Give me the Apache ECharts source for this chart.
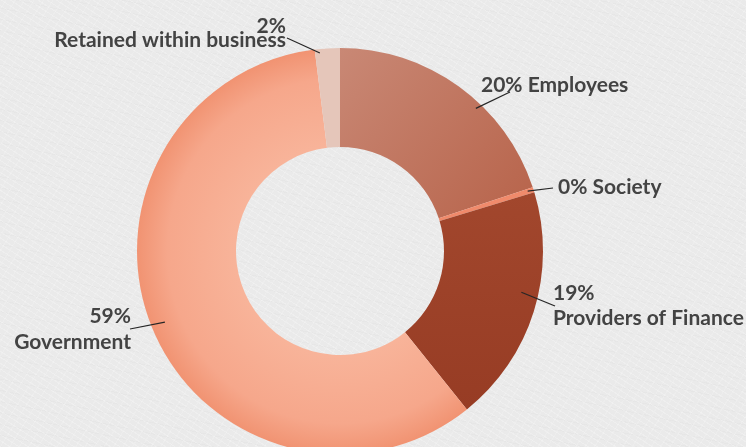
<!DOCTYPE html>
<html>
<head>
<meta charset="utf-8">
<script src="https://cdn.jsdelivr.net/npm/echarts@6/dist/echarts.min.js"></script>
<style>
  html, body { margin: 0; padding: 0; }
  body {
    width: 746px; height: 447px; overflow: hidden;
    background-color: #eaeaea;
    background-image:
      repeating-linear-gradient(33deg, rgba(255,255,255,0.22) 0 1px, rgba(255,255,255,0) 1px 5px),
      repeating-linear-gradient(-58deg, rgba(255,255,255,0.16) 0 1px, rgba(255,255,255,0) 1px 8px),
      repeating-linear-gradient(12deg, rgba(205,205,205,0.12) 0 1px, rgba(205,205,205,0) 1px 11px);
  }
  #chart { width: 746px; height: 447px; }
</style>
</head>
<body>
<div id="chart"></div>
<script>
// Share of value distributed, in percent, clockwise from twelve o'clock
const categories = ['Employees', 'Society', 'Providers of Finance', 'Government', 'Retained within business'];
const shares = [20, 0, 19, 59, 2];

const CX = 340, CY = 251, R_IN = 104, R_OUT = 203;

const sliceColors = [
  new echarts.graphic.LinearGradient(0, 0, 1, 1, [
    { offset: 0, color: '#c98875' },
    { offset: 1, color: '#b7634a' }
  ]),
  '#f08a6b',
  new echarts.graphic.LinearGradient(0, 0, 0, 1, [
    { offset: 0, color: '#a2472d' },
    { offset: 1, color: '#973c24' }
  ]),
  new echarts.graphic.RadialGradient(CX, CY, R_OUT, [
    { offset: 0.5, color: '#f8b49a' },
    { offset: 0.85, color: '#f6a78b' },
    { offset: 1, color: '#f19372' }
  ], true),
  '#e5c6ba'
];

// Label block anchors, plus where each leader line starts on the ring
// (angle in degrees clockwise from twelve o'clock, radius in px)
// and where it stops next to the text.
const labelSpots = [
  { x: 481, y: 85, align: 'left', lineHeight: 24, nl: false, ang: 43.6, r: 197, end: [510, 92] },
  { x: 558, y: 187, align: 'left', lineHeight: 24, nl: false, ang: 72.3, r: 197, end: [553, 188] },
  { x: 553, y: 306, align: 'left', lineHeight: 25, nl: true, ang: 102.8, r: 186, end: [555, 306] },
  { x: 131, y: 329, align: 'right', lineHeight: 26, nl: true, ang: 247.9, r: 189, end: [130, 329] },
  { x: 286, y: 33, align: 'right', lineHeight: 14, nl: true, ang: -5.8, r: 199, end: [287, 38] }
];

function ringPoint(angDeg, r) {
  const a = angDeg * Math.PI / 180;
  return [CX + r * Math.sin(a), CY - r * Math.cos(a)];
}

const ringBase = {
  type: 'pie',
  center: [CX, CY],
  radius: [R_IN, R_OUT],
  startAngle: 90,
  clockwise: true,
  minAngle: 1.5,
  avoidLabelOverlap: false
};

const chart = echarts.init(document.getElementById('chart'), null, { renderer: 'canvas' });

chart.setOption({
  animation: false,
  backgroundColor: 'transparent',
  series: [
    // coloured ring
    Object.assign({}, ringBase, {
      z: 2,
      data: categories.map((name, i) => ({
        name: name,
        value: shares[i],
        itemStyle: { color: sliceColors[i] }
      })),
      label: { show: false },
      labelLine: { show: false }
    }),
    // labels and leader lines, layered above the ring
    Object.assign({}, ringBase, {
      z: 3,
      silent: true,
      data: categories.map((name, i) => ({
        name: name,
        value: shares[i],
        label: { lineHeight: labelSpots[i].lineHeight }
      })),
      itemStyle: { color: 'rgba(0,0,0,0)' },
      label: {
        show: true,
        position: 'outside',
        fontFamily: 'Lato',
        fontWeight: 700,
        fontSize: 21,
        color: '#434343',
        formatter: (p) => labelSpots[p.dataIndex].nl
          ? p.value + '%\n' + p.name
          : p.value + '% ' + p.name
      },
      labelLine: {
        show: true,
        length: 10,
        length2: 10,
        lineStyle: { color: '#262626', width: 1.2 }
      },
      labelLayout: (params) => {
        const s = labelSpots[params.dataIndex];
        const start = ringPoint(s.ang, s.r);
        return {
          x: s.x, y: s.y, align: s.align, verticalAlign: 'middle',
          labelLinePoints: [start, s.end, s.end]
        };
      }
    })
  ]
});
</script>
</body>
</html>
